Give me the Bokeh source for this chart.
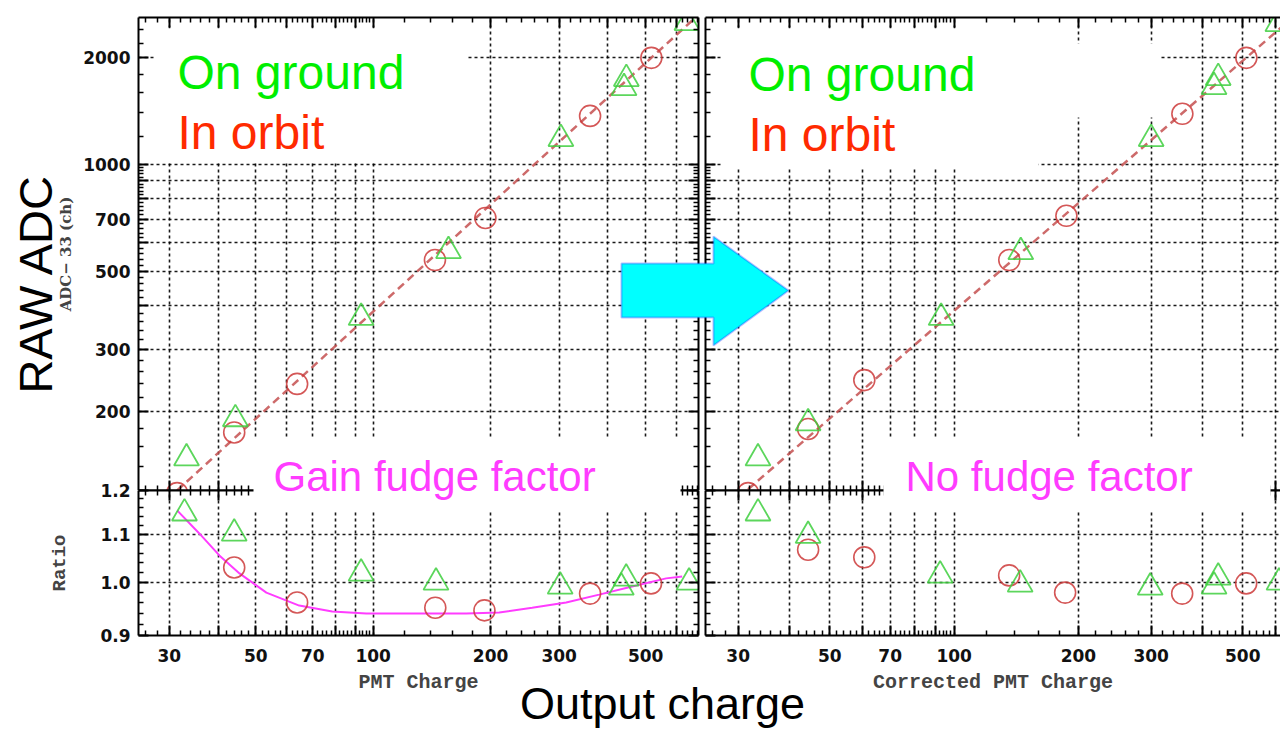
import math
from bokeh.plotting import figure
from bokeh.models import (Range1d, LogAxis, FixedTicker, Label, BoxAnnotation,
                          PolyAnnotation, CustomLabelingPolicy)
from bokeh.layouts import column, row
from bokeh.embed import file_html
from bokeh.resources import INLINE

# ---------------- data ----------------
x_tick_values = [30, 40, 50, 60, 70, 80, 90, 100, 200, 300, 400, 500, 600]
x_tick_labels = ["30", "", "50", "", "70", "", "", "100", "200", "300", "", "500", ""]
adc_tick_values = [200, 300, 400, 500, 600, 700, 800, 900, 1000, 2000]
adc_tick_labels = ["200", "300", "", "500", "", "700", "", "", "1000", "2000"]
ratio_tick_values = [0.9, 1.0, 1.1, 1.2]
ratio_tick_labels = ["0.9", "1.0", "1.1", "1.2"]

# left: PMT charge vs ADC-33
left_ground_charge = [33.2, 44.3, 93.1, 156, 303, 440, 446, 638]
left_ground_adc = [148, 191, 369, 570, 1181, 1645, 1745, 2511]
left_orbit_charge = [31.4, 44.0, 63.8, 144, 194, 360, 517]
left_orbit_adc = [118, 175, 240, 537, 706, 1371, 2000]
left_fit_charge = [31.4, 700]
left_fit_adc = [120, 2713]

# right: corrected PMT charge vs ADC-33
right_ground_charge = [33.5, 44.3, 93.0, 145, 300, 426, 436, 608]
right_ground_adc = [148, 186, 369, 566, 1181, 1656, 1756, 2494]
right_orbit_charge = [31.7, 44.3, 60.6, 136, 187, 357, 510]
right_orbit_adc = [118, 179, 246, 537, 716, 1390, 2000]
right_fit_charge = [31.7, 640]
right_fit_adc = [121, 2519]

# ratio panels
left_ratio_ground_charge = [32.8, 44.0, 93.1, 144.9, 301.7, 433, 445.6, 646]
left_ratio_ground = [1.147, 1.102, 1.018, 1.000, 0.992, 0.990, 1.008, 1.000]
left_ratio_orbit_charge = [44.0, 63.8, 144.3, 192.9, 360, 516]
left_ratio_orbit = [1.030, 0.961, 0.951, 0.946, 0.978, 0.998]
fudge_charge = [31.45, 35.8, 40.3, 45.4, 53.2, 64.6, 78.5, 96.0, 131.3, 173.2,
                210.5, 255.7, 312.6, 379.9, 461.6, 564.2, 620.2]
fudge_ratio = [1.153, 1.102, 1.055, 1.018, 0.980, 0.955, 0.944, 0.940, 0.940, 0.940,
               0.942, 0.951, 0.961, 0.976, 0.992, 1.008, 1.012]

right_ratio_ground_charge = [33.5, 44.3, 92.5, 144.5, 298.4, 426, 436, 612]
right_ratio_ground = [1.147, 1.097, 1.014, 0.996, 0.990, 0.992, 1.010, 1.000]
right_ratio_orbit_charge = [44.3, 60.6, 135.9, 185.7, 356.6, 509.5]
right_ratio_orbit = [1.067, 1.051, 1.014, 0.980, 0.978, 0.998]

# ---------------- styling ----------------
GREEN = "#3fcf3f"
RED = "#cc3a3a"
FIT = "#c45050"
MAGENTA = "#ff3cff"
TICK_FONT = "DejaVu Sans"
x_minor = [v for v in range(26, 100, 2) if v % 10] + [v for v in range(120, 700, 20) if v % 100]
adc_minor = [v for v in range(120, 1000, 20) if v % 100] + [1200, 1400, 1600, 1800, 2200, 2400]
ratio_minor = [0.92, 0.94, 0.96, 0.98, 1.02, 1.04, 1.06, 1.08, 1.12, 1.14, 1.16, 1.18]

HIDE_ALL = "for (const i of indices) indices.unset(i)"


def style_axis(ax, ticks, minor, labels=None):
    ax.ticker = FixedTicker(ticks=ticks, minor_ticks=minor)
    ax.major_tick_in = 10
    ax.major_tick_out = 0
    ax.minor_tick_in = 5
    ax.minor_tick_out = 0
    ax.axis_line_width = 2
    ax.axis_line_color = "black"
    ax.major_tick_line_width = 2
    ax.major_tick_line_color = "black"
    ax.minor_tick_line_width = 1.5
    ax.minor_tick_line_color = "black"
    if labels is None:
        ax.major_label_text_font_size = "0px"
        ax.major_label_standoff = 0
        ax.major_label_policy = CustomLabelingPolicy(code=HIDE_ALL)
    else:
        ax.major_label_overrides = dict(zip(ticks, labels))
        ax.major_label_text_font = TICK_FONT
        ax.major_label_text_font_style = "bold"
        ax.major_label_text_font_size = "17px"
        ax.major_label_text_color = "#111111"


def make_fig(width, height, x_end, y_rng, borders, **kw):
    p = figure(width=width, height=height, x_axis_type="log", y_axis_type="log",
               x_range=Range1d(25, x_end), y_range=Range1d(*y_rng),
               output_backend="svg", toolbar_location=None,
               min_border_left=borders[0], min_border_right=borders[1],
               min_border_top=borders[2], min_border_bottom=borders[3], **kw)
    p.outline_line_color = None
    p.background_fill_color = "white"
    p.border_fill_color = "white"
    for g in p.grid:
        g.grid_line_color = "black"
        g.grid_line_width = 1.6
        g.grid_line_dash = "3 3"
        g.grid_line_alpha = 0.9
    p.xgrid[0].ticker = FixedTicker(ticks=x_tick_values)
    return p


def canvas_box(p, l, r, t, b):
    p.add_layout(BoxAnnotation(left=l, right=r, top=t, bottom=b,
                               left_units="canvas", right_units="canvas",
                               top_units="canvas", bottom_units="canvas",
                               fill_color="white", fill_alpha=1.0, line_color=None))


def canvas_text(p, x, y, text, color, size, **kw):
    kw.setdefault("text_baseline", "bottom")
    p.add_layout(Label(x=x, y=y, x_units="canvas", y_units="canvas", text=text,
                       text_color=color, text_font="Liberation Sans",
                       text_font_size=size, **kw))


def data_marks(p, gx, gy, ox, oy):
    p.scatter(ox, oy, marker="circle", size=21, fill_color=None,
              line_color=RED, line_width=1.6, line_alpha=0.85)
    p.scatter(gx, gy, marker="triangle", size=25, fill_color=None,
              line_color=GREEN, line_width=1.8, line_alpha=0.85)


LEFT_W, RIGHT_W, FULL_H = 701, 579, 729
TOP_H = 490
OVERLAP = 14                      # ratio canvases start a little above the shared edge
RATIO_H = FULL_H - TOP_H + OVERLAP
RATIO_FRAME = 145
LEFT_XEND = 683
RIGHT_XEND = 617
ADC_RANGE = (120, 2600)
RATIO_RANGE = (0.9, 1.2)

# ---------------- top-left ----------------
tl = make_fig(LEFT_W, TOP_H, LEFT_XEND, ADC_RANGE, (138, 3, 17, 0))
tl.ygrid[0].ticker = FixedTicker(ticks=adc_tick_values)
style_axis(tl.xaxis[0], x_tick_values, x_minor)
style_axis(tl.yaxis[0], adc_tick_values, adc_minor, adc_tick_labels)
tl.yaxis[0].major_label_standoff = 8
tl.yaxis[0].axis_label = "ADC\u2212 33 (ch)"
tl.yaxis[0].axis_label_text_font = "DejaVu Serif"
tl.yaxis[0].axis_label_text_font_style = "bold"
tl.yaxis[0].axis_label_text_font_size = "15px"
tl.yaxis[0].axis_label_standoff = 5
for side in ("above", "right"):
    ax = LogAxis()
    style_axis(ax, adc_tick_values if side == "right" else x_tick_values,
               adc_minor if side == "right" else x_minor)
    tl.add_layout(ax, side)
tl.line(left_fit_charge, left_fit_adc, line_color=FIT, line_width=2.5,
        line_dash="8 5", line_alpha=0.85)
data_marks(tl, left_ground_charge, left_ground_adc, left_orbit_charge, left_orbit_adc)

# ---------------- bottom-left (ratio) ----------------
bl = make_fig(LEFT_W, RATIO_H, LEFT_XEND, RATIO_RANGE,
              (138, 3, OVERLAP, RATIO_H - OVERLAP - RATIO_FRAME),
              margin=(-OVERLAP, 0, 0, 0))
bl.border_fill_color = None
bl.ygrid[0].ticker = FixedTicker(ticks=[1.0, 1.1])
style_axis(bl.xaxis[0], x_tick_values, x_minor, x_tick_labels)
bl.xaxis[0].major_label_standoff = 13
bl.xaxis[0].axis_label = "PMT Charge"
style_axis(bl.yaxis[0], ratio_tick_values, ratio_minor, ratio_tick_labels)
bl.yaxis[0].major_label_standoff = 8
bl.yaxis[0].axis_label = "Ratio"
bl.yaxis[0].axis_label_standoff = 26
for ax_ in (bl.xaxis[0], bl.yaxis[0]):
    ax_.axis_label_text_font = "Liberation Mono"
    ax_.axis_label_text_font_style = "bold"
    ax_.axis_label_text_font_size = "19px"
bl.xaxis[0].axis_label_text_font_size = "20px"
bl.xaxis[0].axis_label_standoff = 6
for side in ("above", "right"):
    ax = LogAxis()
    style_axis(ax, ratio_tick_values if side == "right" else x_tick_values,
               ratio_minor if side == "right" else x_minor)
    bl.add_layout(ax, side)
bl.line(fudge_charge, fudge_ratio, line_color=MAGENTA, line_width=2)
data_marks(bl, left_ratio_ground_charge, left_ratio_ground,
           left_ratio_orbit_charge, left_ratio_orbit)

# ---------------- top-right ----------------
tr = make_fig(RIGHT_W, TOP_H, RIGHT_XEND, ADC_RANGE, (4, 0, 17, 0))
tr.ygrid[0].ticker = FixedTicker(ticks=adc_tick_values)
style_axis(tr.xaxis[0], x_tick_values, x_minor)
style_axis(tr.yaxis[0], adc_tick_values, adc_minor)
ax = LogAxis()
style_axis(ax, x_tick_values, x_minor)
tr.add_layout(ax, "above")
tr.line(right_fit_charge, right_fit_adc, line_color=FIT, line_width=2.5,
        line_dash="8 5", line_alpha=0.85)
data_marks(tr, right_ground_charge, right_ground_adc, right_orbit_charge, right_orbit_adc)

# ---------------- bottom-right (ratio) ----------------
br = make_fig(RIGHT_W, RATIO_H, RIGHT_XEND, RATIO_RANGE,
              (4, 0, OVERLAP, RATIO_H - OVERLAP - RATIO_FRAME),
              margin=(-OVERLAP, 0, 0, 0))
br.border_fill_color = None
br.ygrid[0].ticker = FixedTicker(ticks=[1.0, 1.1])
style_axis(br.xaxis[0], x_tick_values, x_minor, x_tick_labels)
br.xaxis[0].major_label_standoff = 13
br.xaxis[0].axis_label = "Corrected PMT Charge"
br.xaxis[0].axis_label_text_font = "Liberation Mono"
br.xaxis[0].axis_label_text_font_style = "bold"
br.xaxis[0].axis_label_text_font_size = "20px"
br.xaxis[0].axis_label_standoff = 6
style_axis(br.yaxis[0], ratio_tick_values, ratio_minor)
ax = LogAxis()
style_axis(ax, x_tick_values, x_minor)
br.add_layout(ax, "above")
data_marks(br, right_ratio_ground_charge, right_ratio_ground,
           right_ratio_orbit_charge, right_ratio_orbit)

# ---------------- transparent overlay for the slide annotations ----------------
ov = figure(width=LEFT_W + RIGHT_W, height=FULL_H, x_range=Range1d(0, 1),
            y_range=Range1d(0, 1), output_backend="svg", toolbar_location=None,
            min_border=0, x_axis_location=None, y_axis_location=None,
            margin=(-FULL_H, 0, 0, 0))
ov.grid.visible = False
ov.outline_line_color = None
ov.background_fill_color = None
ov.border_fill_color = None

# white text boxes
canvas_box(ov, 155, 467, 28, 162)
canvas_box(ov, 253, 680, 437, 510)
canvas_box(ov, 722, 1038, 28, 167)
canvas_box(ov, 722, 1160, 43, 117)
canvas_box(ov, 883, 1270, 437, 510)
# texts (y = bottom of the text box, i.e. the descender line)
canvas_text(ov, 177, 98, "On ground", "#00ee00", "48px")
canvas_text(ov, 177, 158, "In orbit", "#ff2a00", "48px")
canvas_text(ov, 748, 100, "On ground", "#00ee00", "48px")
canvas_text(ov, 748, 160, "In orbit", "#ff2a00", "48px")
canvas_text(ov, 273, 499, "Gain fudge factor", MAGENTA, "42px")
canvas_text(ov, 905, 499, "No fudge factor", MAGENTA, "42px")
canvas_text(ov, 662, 728, "Output charge", "black", "45px", text_align="center")
canvas_text(ov, 35, 283, "RAW ADC", "black", "47px", angle=math.pi / 2,
            text_align="center", text_baseline="middle")
# arrow
arrow_xs = [621, 713, 713, 788, 713, 713, 621]
arrow_ys = [263, 263, 236, 290, 345, 317, 317]
ov.add_layout(PolyAnnotation(xs=arrow_xs, ys=arrow_ys, xs_units="canvas", ys_units="canvas",
                             fill_color="#00ffff", fill_alpha=1.0,
                             line_color="#1a1aff", line_width=2))

layout = column(row(column(tl, bl), column(tr, br)), ov)
open("out.html", "w").write(file_html(layout, INLINE))
